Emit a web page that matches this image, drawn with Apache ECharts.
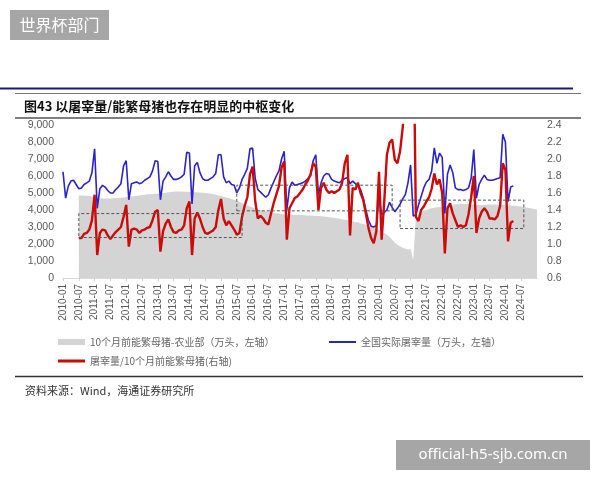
<!DOCTYPE html>
<html>
<head>
<meta charset="utf-8">
<script src="https://cdn.jsdelivr.net/npm/echarts@6/dist/echarts.min.js"></script>
<style>
  html, body { margin: 0; padding: 0; background: #fff; }
  #main { width: 600px; height: 480px; }
</style>
</head>
<body>
<div id="main"></div>
<script>
// month labels 2010-01 .. 2025-01
const months = [];
for (let y = 2010; y <= 2025; y++) {
  for (let m = 1; m <= 12; m++) {
    if (y === 2025 && m > 1) break;
    months.push(y + '-' + (m < 10 ? '0' + m : m));
  }
}

const seriesNames = ['10个月前能繁母猪-农业部（万头，左轴）', '全国实际屠宰量（万头，左轴）', '屠宰量/10个月前能繁母猪(右轴)'];

// 10个月前能繁母猪 (万头), from 2010-07
const sowStock = [null, null, null, null, null, null,
  4850, 4850, 4840, 4840, 4830, 4800,
  4750, 4700, 4680, 4680, 4680, 4680, 4680, 4690, 4700, 4700, 4720, 4740,
  4760, 4780, 4800, 4820, 4840, 4860, 4880, 4900, 4920, 4930, 4940, 4950,
  4960, 4980, 5000, 5020, 5040, 5060, 5080, 5090, 5090, 5090, 5080, 5070,
  5060, 5050, 5050, 5040, 5030, 5020, 5000, 4980, 4960, 4930, 4900, 4860,
  4820, 4780, 4740, 4700, 4650, 4600, 4550, 4480, 4400, 4330, 4260, 4200,
  4150, 4100, 4050, 4000, 3960, 3930, 3900, 3870, 3840, 3810, 3790, 3770,
  3750, 3740, 3730, 3720, 3710, 3700, 3700, 3700, 3690, 3680, 3670, 3660,
  3650, 3640, 3630, 3620, 3600, 3580, 3560, 3540, 3510, 3480, 3450, 3420,
  3390, 3360, 3330, 3300, 3260, 3220, 3180, 3130, 3080, 3020, 2960, 2900,
  2820, 2740, 2650, 2550, 2420, 2250, 2080, 1950, 1850, 1780, 1720, 1680,
  1700, 1050, 3500, 3750, 3900, 3950, 4000, 4050, 4100, 4130, 4160, 4180,
  4200, 4230, 4260, 4290, 4310, 4330, 4340, 4350, 4360, 4360, 4350, 4340,
  4320, 4300, 4290, 4290, 4300, 4320, 4330, 4330, 4320, 4310, 4300, 4290,
  4280, 4270, 4260, 4250, 4240, 4220, 4200, 4180, 4150, 4120, 4090, 4060,
  4030];

// 全国实际屠宰量 (万头)
const slaughter = [
  6250, 4700, 5400, 5700, 5750, 5500, 5250, 5300, 5500, 5600, 5700, 6200,
  7600, 4100, 5250, 5450, 5350, 5150, 5000, 5000, 5200, 5350, 5550, 6600,
  6900, 4600, 5550, 5600, 5650, 5550, 5600, 5750, 5850, 5950, 6300, 6900,
  6850, 4600, 5700, 5950, 6250, 6000, 5800, 5800, 5850, 5950, 6100, 7400,
  7350, 4350, 6600, 6800, 6200, 5850, 5750, 5750, 5850, 5950, 6150, 7250,
  7250, 5950, 5600, 5700, 5500, 5450, 5000, 5300, 5800, 6100, 6450, 7600,
  7650, 5850, 5200, 5050, 4900, 4750, 4900, 5300, 5650, 6000, 6300, 7000,
  7450, 4000, 5300, 5650, 5450, 5500, 5550, 5600, 5700, 5850, 6000, 6900,
  7250, 4900, 5600, 6000, 6150, 6100, 5800, 5700, 5650, 5600, 5750, 5850,
  5900, 5550, 5700, 5550, 5400, 5200, 4700, 4000, 3400, 3050, 3000, 3100,
  4800, 3750, 3850, 4000, 4450, 4150, 3900, 4100, 4350, 4650, 4900, 5600,
  6650, 3650, 3700, 4300, 4800, 5300, 5650, 5800, 6300, 7650, 6750, 7350,
  7100, 3800, 6100, 6650, 6200, 5300, 5200, 5200, 5150, 5200, 5300, 5870,
  7550, 4700, 5500, 5800, 6050, 5800, 5750, 5750, 5800, 5850, 5900, 8450,
  8000, 4500, 5350, 5420];

// 屠宰量/10个月前能繁母猪
const ratio = [null, null, null, null, null, null,
  1.07, 1.07, 1.12, 1.13, 1.17, 1.28,
  1.58, 0.87, 1.13, 1.17, 1.16, 1.10, 1.06, 1.10, 1.14, 1.17, 1.20, 1.32,
  1.46, 0.97, 1.17, 1.18, 1.17, 1.13, 1.16, 1.17, 1.19, 1.20, 1.28, 1.38,
  1.40, 0.91, 1.15, 1.24, 1.29, 1.20, 1.14, 1.13, 1.16, 1.17, 1.22, 1.42,
  1.50, 0.87, 1.30, 1.37, 1.30, 1.20, 1.13, 1.12, 1.14, 1.16, 1.20, 1.40,
  1.53, 1.30, 1.22, 1.27, 1.22, 1.17, 1.11, 1.13, 1.32, 1.45, 1.55, 1.82,
  1.91, 1.50, 1.30, 1.33, 1.30, 1.25, 1.23, 1.36, 1.48, 1.58, 1.68, 1.90,
  1.97, 1.05, 1.42, 1.48, 1.54, 1.56, 1.60, 1.64, 1.70, 1.75, 1.82, 1.95,
  1.91, 1.40, 1.66, 1.72, 1.64, 1.60, 1.62, 1.60, 1.62, 1.64, 1.72, 1.95,
  2.05, 1.10, 1.66, 1.64, 1.72, 1.60, 1.52, 1.36, 1.19, 1.07, 1.01, 1.15,
  1.85, 1.05, 1.50, 2.05, 2.19, 2.23, 1.99, 1.95, 2.09, 2.37, 2.70, 2.90,
  3.10, 3.80, 1.32, 1.27, 1.40, 1.44, 1.50, 1.55, 1.65, 1.83, 1.70, 1.76,
  1.60, 0.89, 1.42, 1.48, 1.36, 1.28, 1.20, 1.22, 1.20, 1.22, 1.35, 1.55,
  1.80, 1.13, 1.30, 1.38, 1.42, 1.38, 1.30, 1.30, 1.29, 1.33, 1.45, 1.95,
  1.87, 1.03, 1.25, 1.27];

// dashed boxes: [startIndex, endIndex, low, high] on the left axis
const boxes = [
  [6, 68, 2380, 3790],
  [66, 124.5, 3950, 5460],
  [128, 175, 2910, 4580]
];

const labelFont = '"Liberation Sans", Arial, sans-serif';
const cjkFont = '"Noto Sans CJK SC", sans-serif';

function showLabel(index) {
  return index % 6 === 0 && index < 180;
}

const chart = echarts.init(document.getElementById('main'), null, { renderer: 'canvas' });

const legendText = { color: '#666', fontSize: 10, fontFamily: cjkFont };

chart.setOption({
  backgroundColor: '#fff',
  animation: false,
  grid: { left: 63, right: 63, top: 125, bottom: 202 },
  legend: [
    { data: [seriesNames[0]], left: 58, top: 337, padding: 0, icon: 'rect', itemWidth: 27, itemHeight: 6, textStyle: legendText },
    { data: [seriesNames[1]], left: 329, top: 337, padding: 0, icon: 'rect', itemWidth: 27, itemHeight: 2, textStyle: legendText },
    { data: [seriesNames[2]], left: 58, top: 356, padding: 0, icon: 'rect', itemWidth: 27, itemHeight: 3, textStyle: legendText }
  ],
  xAxis: {
    type: 'category',
    data: months,
    boundaryGap: false,
    axisLine: { show: true, lineStyle: { color: '#d9d9d9' } },
    axisTick: { show: true, interval: showLabel, length: 3, lineStyle: { color: '#d0d0d0' } },
    axisLabel: {
      interval: showLabel,
      rotate: 90,
      margin: 6,
      fontSize: 10,
      color: '#595959',
      fontFamily: labelFont
    },
    splitLine: { show: false }
  },
  yAxis: [
    {
      type: 'value',
      min: 0,
      max: 9000,
      interval: 1000,
      axisLine: { show: false },
      axisTick: { show: false },
      splitLine: { show: false },
      axisLabel: {
        fontSize: 10.5,
        color: '#595959',
        fontFamily: labelFont,
        margin: 9,
        formatter: function (v) { return v.toLocaleString('en-US'); }
      }
    },
    {
      type: 'value',
      position: 'right',
      min: 0.6,
      max: 2.4,
      interval: 0.2,
      axisLine: { show: false },
      axisTick: { show: false },
      splitLine: { show: false },
      axisLabel: {
        fontSize: 10.5,
        color: '#595959',
        fontFamily: labelFont,
        margin: 10,
        formatter: function (v) { return v.toFixed(1); }
      }
    }
  ],
  series: [
    {
      name: seriesNames[0],
      type: 'line',
      yAxisIndex: 0,
      data: sowStock,
      symbol: 'none',
      color: '#d4d4d4',
      lineStyle: { width: 0 },
      areaStyle: { color: '#d4d4d4', opacity: 1 },
      z: 1
    },
    {
      name: seriesNames[1],
      type: 'line',
      yAxisIndex: 0,
      data: slaughter,
      symbol: 'none',
      color: '#2b22c8',
      lineStyle: { width: 1.6, color: '#2b22c8' },
      z: 3
    },
    {
      name: seriesNames[2],
      type: 'line',
      yAxisIndex: 1,
      data: ratio,
      symbol: 'none',
      color: '#cc0a0a',
      lineStyle: { width: 2.4, color: '#cc0a0a' },
      z: 4
    },
    {
      // holder for the dashed boxes, drawn above the area
      type: 'line',
      yAxisIndex: 0,
      data: [],
      z: 5,
      markArea: {
        silent: true,
        z: 5,
        itemStyle: { color: 'rgba(0,0,0,0)', borderColor: '#555', borderWidth: 1, borderType: [3, 2] },
        data: boxes.map(b => [{ xAxis: b[0], yAxis: b[2] }, { xAxis: b[1], yAxis: b[3] }])
      }
    }
  ],
  graphic: [
    { type: 'rect', shape: { x: 10, y: 10, width: 99, height: 30 }, style: { fill: '#a6a6a6' } },
    { type: 'text', style: { x: 59.5, y: 25, text: '世界杯部门', fill: '#fff', font: '16px ' + cjkFont, textAlign: 'center', textVerticalAlign: 'middle' } },
    { type: 'line', shape: { x1: 0, y1: 88.5, x2: 573, y2: 88.5 }, style: { stroke: '#1c1a6c', lineWidth: 2 } },
    { type: 'line', shape: { x1: 15, y1: 93.5, x2: 581, y2: 93.5 }, style: { stroke: '#777', lineWidth: 1 } },
    { type: 'text', style: { x: 24, y: 106, text: '图43 以屠宰量/能繁母猪也存在明显的中枢变化', fill: '#111', font: 'bold 13px ' + cjkFont, textVerticalAlign: 'middle' } },
    { type: 'line', shape: { x1: 15, y1: 118, x2: 581, y2: 118 }, style: { stroke: '#555', lineWidth: 1.5 } },
    { type: 'line', shape: { x1: 15, y1: 376.5, x2: 583, y2: 376.5 }, style: { stroke: '#333', lineWidth: 1.5 } },
    { type: 'text', style: { x: 25, y: 391, text: '资料来源：Wind，海通证券研究所', fill: '#333', font: '11px ' + cjkFont, textVerticalAlign: 'middle' } },
    { type: 'rect', shape: { x: 396, y: 440, width: 194, height: 30 }, style: { fill: '#a6a6a6' } },
    { type: 'text', style: { x: 493, y: 455, text: 'official-h5-sjb.com.cn', fill: '#fff', font: '15px "Noto Sans", sans-serif', textAlign: 'center', textVerticalAlign: 'middle' } }
  ]
});
</script>
</body>
</html>
